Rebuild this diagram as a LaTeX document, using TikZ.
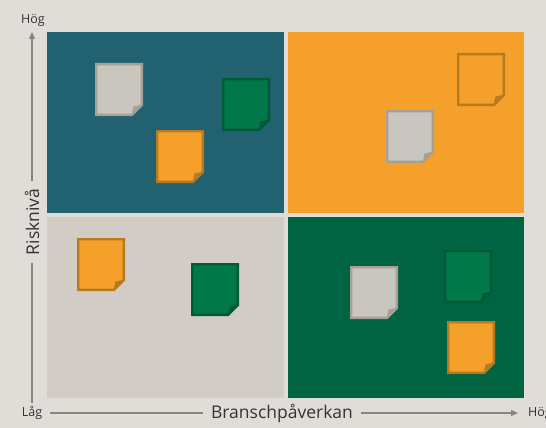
\documentclass[tikz,border=0pt]{standalone}
\usepackage{fontspec}
\setmainfont{Open Sans}
\usetikzlibrary{arrows.meta}
\definecolor{bgc}{HTML}{E0DDD8}
\definecolor{tealq}{HTML}{22616F}
\definecolor{orangeq}{HTML}{F5A02A}
\definecolor{grayq}{HTML}{D1CCC6}
\definecolor{greenq}{HTML}{006341}
\definecolor{grayfill}{HTML}{C9C5BF}
\definecolor{grayline}{HTML}{A89F95}
\definecolor{greenfill}{HTML}{00784A}
\definecolor{greenline}{HTML}{005A36}
\definecolor{orangefill}{HTML}{F5A02A}
\definecolor{orangeline}{HTML}{B57B20}
\definecolor{axisc}{HTML}{8C847C}
\definecolor{textc}{HTML}{333333}
\tikzset{
  axisline/.style={draw=axisc, line width=1.2pt},
  axistip/.style={-{Triangle[length=7pt,width=6pt]}},
  axislabel/.style={text=textc, font=\fontsize{17.5}{20}\selectfont, inner xsep=8pt, inner ysep=2pt},
  endlabel/.style={text=textc, font=\fontsize{12.5}{14}\selectfont, inner sep=1pt},
  pics/note/.style n args={3}{code={
    \path[fill=#1, draw=#2, line width=2.4pt, line join=miter]
      (1.2,1.2) -- (46.8,1.2) -- (46.8,42) -- (37,51.8) -- (1.2,51.8) -- cycle;
    \fill[#3] (48,41.5) -- (38.5,43.5) -- (36.5,53) -- cycle;
  }}
}
\begin{document}
\begin{tikzpicture}[x=1pt,y=-1pt]
\useasboundingbox (0,0) rectangle (546,428);
\fill[bgc] (0,0) rectangle (546,428);
% quadrants
\fill[tealq] (47,32) rectangle (283.5,213);
\fill[orangeq] (287.5,32) rectangle (524,213);
\fill[grayq] (47,217) rectangle (283.5,398);
\fill[greenq] (287.5,217) rectangle (524,398);
% notes
\pic at (95,63) {note={grayfill}{grayline}{grayline}};
\pic at (222,78) {note={greenfill}{greenline}{greenline}};
\pic at (156,130) {note={orangefill}{orangeline}{orangeline}};
\pic at (457,53) {note={orangeq}{orangeline}{orangeline}};
\pic at (386,110) {note={grayfill}{grayline}{grayline}};
\pic at (77,238) {note={orangefill}{orangeline}{orangeline}};
\pic at (191,263) {note={greenfill}{greenline}{greenline}};
\pic at (350,266) {note={grayfill}{grayline}{grayline}};
\pic at (444,250) {note={greenfill}{greenline}{greenline}};
\pic at (447,321) {note={orangefill}{orangeline}{orangeline}};
% axes
\node[axislabel, rotate=90] (ylab) at (32,222) {Risknivå};
\node[endlabel] (ytoplab) at (33,20) {Hög};
\node[endlabel] (lowlab) at (32,413) {Låg};
\node[axislabel] (xlab) at (282,413) {Branschpåverkan};
\node[endlabel, anchor=west] (xhigh) at (527,413) {Hög};
\coordinate (ytop) at (32,32);
\coordinate (ybot) at (32,403);
\coordinate (xleft) at (50,413);
\coordinate (xright) at (518,413);
\draw[axisline] (ybot) -- (ylab);
\draw[axisline, axistip] (ylab) -- (ytop);
\draw[axisline] (xleft) -- (xlab);
\draw[axisline, axistip] (xlab) -- (xright);
\end{tikzpicture}
\end{document}
